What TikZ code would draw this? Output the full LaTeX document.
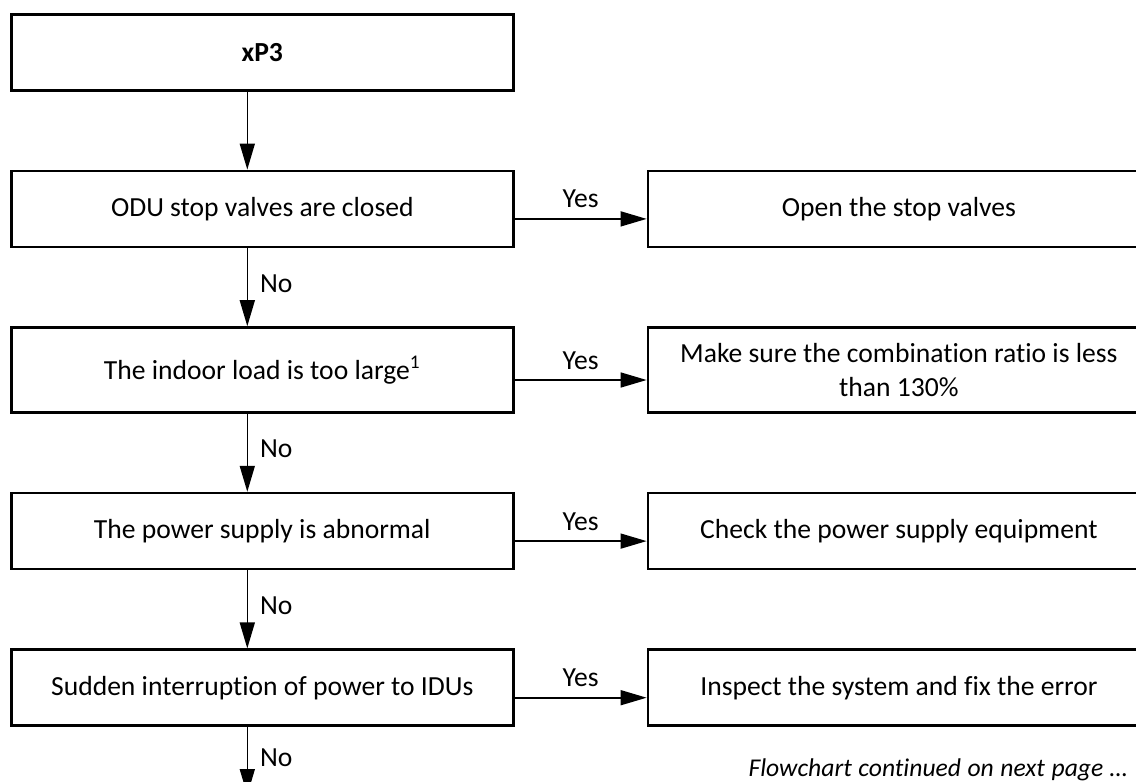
\documentclass[tikz,border=0pt]{standalone}
\usepackage{fontspec}
\setmainfont{Carlito}[Ligatures=NoCommon]
\usetikzlibrary{arrows.meta,positioning}

\begin{document}
\begin{tikzpicture}[>={Triangle[length=13pt,width=7.5pt]}, node distance=39pt and 66pt,
  every node/.style={font=\fontsize{13.8}{16.8}\selectfont},
  box/.style={draw,line width=1.3pt,minimum width=251pt,minimum height=38pt,align=center,inner sep=2pt},
  flow/.style={->,line width=0.8pt},
  yeslbl/.style={above=2pt,inner sep=3pt},
  nolbl/.style={right=3pt,inner sep=3pt,pos=0.45}]
\useasboundingbox (0,0) rectangle (568pt,-391pt);
% checks, left column
\node[box,anchor=north west] (xp3) at (5pt,-6.5pt) {\textbf{xP3}};
\node[box,below=of xp3] (odu) {ODU stop valves are closed};
\node[box,below=of odu,minimum height=42.5pt] (load) {The indoor load is too large\textsuperscript{1}};
\node[box,below=of load] (power) {The power supply is abnormal};
\node[box,below=of power] (idu) {Sudden interruption of power to IDUs};
% actions, right column
\node[box,right=of odu] (open) {Open the stop valves};
\node[box,right=of load,minimum height=42.5pt] (ratio) {Make sure the combination ratio is less\\than 130\%};
\node[box,right=of power] (supply) {Check the power supply equipment};
\node[box,right=of idu] (fix) {Inspect the system and fix the error};
\coordinate (nextpage) at ([shift={(-7.5pt,-34pt)}]idu.south);
\node[anchor=base east,inner sep=0pt,font=\fontsize{12.8}{15}\selectfont] (note) at (564pt,-388pt)
  {\makebox[189.5pt][s]{\itshape Flowchart continued on next page \ldots}};
% No branch
\draw[flow] ([xshift=-7.5pt]xp3.south) -- ([xshift=-7.5pt]odu.north);
\draw[flow] ([xshift=-7.5pt]odu.south) -- node[nolbl]{No} ([xshift=-7.5pt]load.north);
\draw[flow] ([xshift=-7.5pt]load.south) -- node[nolbl]{No} ([xshift=-7.5pt]power.north);
\draw[flow] ([xshift=-7.5pt]power.south) -- node[nolbl]{No} ([xshift=-7.5pt]idu.north);
\draw[flow] ([xshift=-7.5pt]idu.south) -- node[nolbl]{No} (nextpage);
% Yes branch
\draw[flow] ([yshift=-5pt]odu.east) -- node[yeslbl]{Yes} ([yshift=-5pt]open.west);
\draw[flow] ([yshift=-5pt]load.east) -- node[yeslbl]{Yes} ([yshift=-5pt]ratio.west);
\draw[flow] ([yshift=-5pt]power.east) -- node[yeslbl]{Yes} ([yshift=-5pt]supply.west);
\draw[flow] ([yshift=-5pt]idu.east) -- node[yeslbl]{Yes} ([yshift=-5pt]fix.west);
\end{tikzpicture}
\end{document}
